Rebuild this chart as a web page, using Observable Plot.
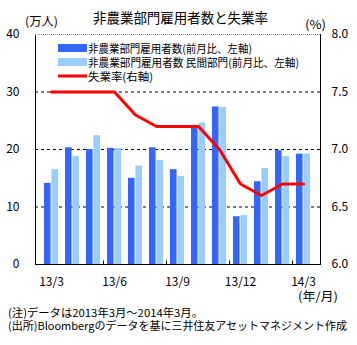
<!DOCTYPE html>
<html>
<head>
<meta charset="utf-8">
<script src="https://cdn.jsdelivr.net/npm/d3@7"></script>
<script src="https://cdn.jsdelivr.net/npm/@observablehq/plot@0.6"></script>
<style>
  html, body { margin: 0; padding: 0; background: #fff; }
  svg { display: block; overflow: visible; }
</style>
</head>
<body>
<div id="chart"></div>
<script>
const months = ["13/3","13/4","13/5","13/6","13/7","13/8","13/9","13/10","13/11","13/12","14/1","14/2","14/3"];
const payrolls = [14.1, 20.3, 20.0, 20.2, 15.0, 20.3, 16.5, 23.8, 27.4, 8.3, 14.4, 19.8, 19.2];
const privatePayrolls = [16.5, 18.8, 22.4, 20.2, 17.1, 18.1, 15.3, 24.6, 27.3, 8.5, 16.7, 18.8, 19.2];
const unemployment = [7.5, 7.5, 7.5, 7.5, 7.3, 7.2, 7.2, 7.2, 7.0, 6.7, 6.6, 6.7, 6.7];
const xTickLabels = ["13/3","13/6","13/9","13/12","14/3"];
const xBoundaryTicks = ["13/6","13/9","13/12","14/3"];
const leftTicks = [0, 10, 20, 30, 40];
const gridTicks = [10, 20, 30];

const legendLabels = ["非農業部門雇用者数(前月比、左軸)", "非農業部門雇用者数 民間部門(前月比、左軸)", "失業率(右軸)"];
const titleText = "非農業部門雇用者数と失業率";
const note1 = "(注)データは2013年3月～2014年3月。";
const note2 = "(出所)Bloombergのデータを基に三井住友アセットマネジメント作成";

const W = 357, H = 345;
const mL = 35, mR = 37, mT = 34, mB = 81;
const step = (W - mL - mR) / months.length;
const bw = step * 0.68;

const rows = months.map((m, i) => ({month: m, a: payrolls[i], b: privatePayrolls[i], u: unemployment[i]}));
const toLeft = u => (u - 6) * 20;
const font = "'Noto Sans CJK JP', 'Noto Sans', sans-serif";

const plot = Plot.plot({
  width: W, height: H,
  marginLeft: mL, marginRight: mR, marginTop: mT, marginBottom: mB,
  style: {fontFamily: font, fontSize: "12px", color: "#000", background: "#fff", overflow: "visible"},
  x: {type: "band", domain: months, paddingInner: 0.32, paddingOuter: 0.16},
  y: {domain: [0, 40]},
  marks: [
    Plot.gridY(gridTicks, {stroke: "#000", strokeOpacity: 1, strokeDasharray: "3,3"}),
    Plot.barY(rows, {x: "month", y: "a", fill: "#3366FF", insetRight: bw / 2}),
    Plot.barY(rows, {x: "month", y: "b", fill: "#99CCFF", insetLeft: bw / 2}),
    Plot.line(rows, {x: "month", y: d => toLeft(d.u), stroke: "#FF0000", strokeWidth: 3}),
    Plot.frame({stroke: "#000"}),
    Plot.ruleY([40], {stroke: "#fff", strokeWidth: 1.5}),
    Plot.ruleY([40], {stroke: "#888", strokeDasharray: "1,1"}),
    Plot.ruleX(xBoundaryTicks, {x: d => d, y1: 0, y2: 0.6, dx: -step / 2, stroke: "#000"}),
    Plot.axisX(xTickLabels, {tickSize: 0, tickPadding: 13, fontSize: 12, label: null}),
    Plot.axisY(leftTicks, {anchor: "left", tickSize: 0, tickPadding: 16, fontSize: 12, label: null}),
    Plot.axisY(leftTicks, {anchor: "right", tickSize: 0, tickPadding: 11, fontSize: 12, label: null,
      tickFormat: d => (6 + d / 20).toFixed(1)})
  ]
});

document.getElementById("chart").appendChild(plot);
const svg = d3.select(plot);

function txt(x, y, s, opts = {}) {
  const t = svg.append("text")
    .attr("x", x).attr("y", y)
    .attr("font-family", font)
    .attr("font-size", opts.size || 11)
    .attr("fill", "#000")
    .attr("dominant-baseline", "central")
    .attr("text-anchor", opts.anchor || "start")
    .text(s);
  if (opts.len) t.attr("textLength", opts.len).attr("lengthAdjust", "spacingAndGlyphs");
  return t;
}

// Title and unit labels
txt(93, 17, titleText, {size: 14, len: 175});
txt(25, 20, "(万人)", {size: 12, len: 33});
txt(305, 23, "(%)", {size: 12, len: 21});
txt(298, 295, "(年/月)", {size: 12, len: 40});

// Legend
const legendColors = ["#3366FF", "#99CCFF"];
const legendY = [48, 62, 76];
const legendLens = [164, 211, 65];
legendColors.forEach((c, i) => {
  svg.append("rect").attr("x", 58).attr("y", legendY[i] - 4).attr("width", 29).attr("height", 8).attr("fill", c);
});
svg.append("line").attr("x1", 58).attr("x2", 87).attr("y1", legendY[2]).attr("y2", legendY[2])
  .attr("stroke", "#FF0000").attr("stroke-width", 3);
legendLabels.forEach((s, i) => txt(88, legendY[i], s, {size: 11, len: legendLens[i]}));

// Notes
txt(8, 312, note1, {size: 11, len: 195});
txt(8, 325, note2, {size: 11, len: 339});
</script>
</body>
</html>
